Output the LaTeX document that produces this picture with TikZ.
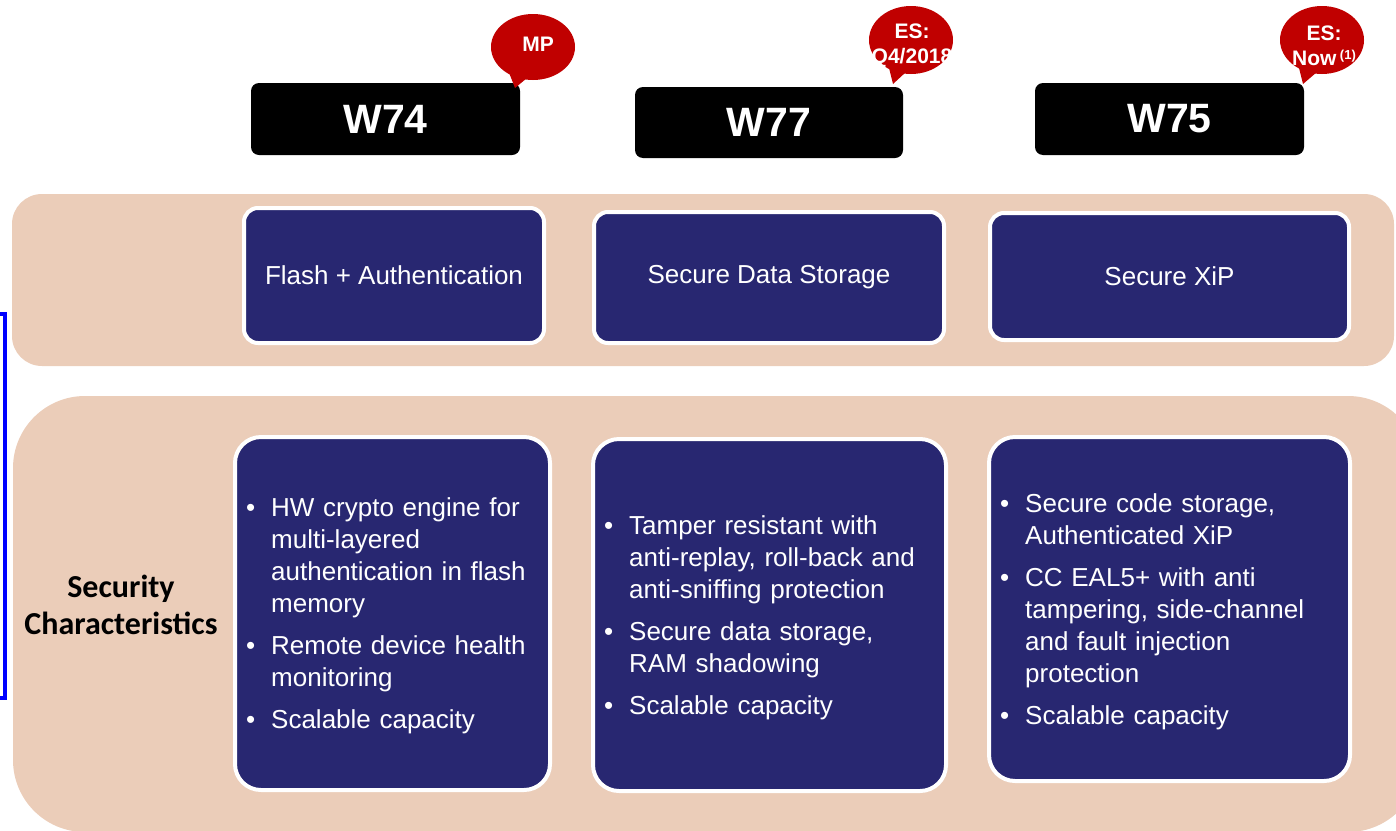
\documentclass[tikz,border=0pt]{standalone}
\usepackage{fontspec}
\setmainfont{Liberation Sans}
\newfontfamily\calib{Carlito}
\definecolor{bandtan}{RGB}{235,205,185}
\definecolor{navy}{RGB}{40,39,113}
\definecolor{calred}{RGB}{192,0,0}
\definecolor{brblue}{RGB}{0,0,255}
\newcommand\bul{\makebox[25pt][l]{\textbullet}}
\newcommand\ind{\hspace*{25pt}}
\tikzset{
  band/.style={fill=bandtan},
  wbox/.style={rectangle, fill=black, rounded corners=8pt, text=white,
    font=\bfseries\fontsize{41}{41}\selectfont, inner sep=0pt},
  topbox/.style={rectangle, fill=navy, draw=white, line width=4pt, rounded corners=14pt,
    text=white, font=\fontsize{26}{32}\selectfont, align=center, inner sep=0pt},
  botbox/.style={rectangle, fill=navy, draw=white, line width=4pt, rounded corners=26pt, inner sep=0pt},
  bullets/.style={anchor=west, text=white, font=\fontsize{26}{32}\selectfont, align=left, inner sep=0pt},
  bubble/.style={fill=calred},
  bubtext/.style={text=white, font=\bfseries\fontsize{21}{25}\selectfont, align=center, inner sep=0pt},
}
\begin{document}
\begin{tikzpicture}[x=1pt,y=-1pt]
\useasboundingbox (0,0) rectangle (1396,830);
\clip (0,0) rectangle (1396,830);
% bands
\fill[band, rounded corners=30pt] (12,194) rectangle (1394,366);
\fill[band, rounded corners=72pt] (13,396) rectangle (1420,832);
% blue bracket
\draw[brblue, line width=4.5pt, line join=miter] (-2,314) -- (5,314) -- (5,698) -- (-2,698);
% headers
\node[wbox, minimum width=269pt, minimum height=72pt] (w74) at (385.5,119) {W74};
\node[wbox, minimum width=268pt, minimum height=71pt] (w77) at (769,122.5) {W77};
\node[wbox, minimum width=269pt, minimum height=72pt] (w75) at (1169.5,119) {W75};
% callouts
\fill[bubble] (533,47) ellipse [x radius=42pt, y radius=33pt];
\fill[bubble] (508,70) -- (515,88) -- (527,78) -- cycle;
\node[bubtext] (mp) at (538,44) {MP};
\fill[bubble] (911,40) ellipse [x radius=42pt, y radius=34pt];
\fill[bubble] (889,68) -- (893,84) -- (906,72) -- cycle;
\node[bubtext] (es1) at (912,45.5) {ES:\\Q4/2018};
\fill[bubble] (1322,40) ellipse [x radius=42pt, y radius=34pt];
\fill[bubble] (1299,68) -- (1303,84) -- (1317,72) -- cycle;
\node[bubtext] (es2) at (1324,45.5) {ES:\\Now\,\raisebox{6pt}{\fontsize{13}{13}\selectfont(1)}};
% top row
\node[topbox, minimum width=300pt, minimum height=135pt] (t1) at (394,275.5) {Flash + Authentication};
\node[topbox, minimum width=350pt, minimum height=131pt] (t2) at (769,277.5) {Secure Data Storage};
\node[topbox, minimum width=359pt, minimum height=127pt] (t3) at (1169.5,276.5) {Secure XiP};
% label
\node[font=\calib\bfseries\fontsize{32}{37}\selectfont, align=center] (sec) at (121,604.5) {Security\\Characteristics};
% bottom row
\node[botbox, minimum width=315pt, minimum height=353pt] (b1) at (392.5,613.5) {};
\node[botbox, minimum width=353pt, minimum height=352pt] (b2) at (769.5,615) {};
\node[botbox, minimum width=361pt, minimum height=344pt] (b3) at (1169.5,609) {};
\node[bullets, text width=293pt] (b1t) at ([xshift=13pt, yshift=-2.5pt] b1.west)
{\bul HW crypto engine for\\ \ind multi-layered\\ \ind authentication in flash\\ \ind memory\\[10pt]
 \bul Remote device health\\ \ind monitoring\\[10pt]
 \bul Scalable capacity};
\node[bullets, text width=331pt] (b2t) at ([xshift=13pt, yshift=-2.5pt] b2.west)
{\bul Tamper resistant with\\ \ind anti-replay, roll-back and\\ \ind anti-sniffing protection\\[10pt]
 \bul Secure data storage,\\ \ind RAM shadowing\\[10pt]
 \bul Scalable capacity};
\node[bullets, text width=339pt] (b3t) at ([xshift=13pt, yshift=-2.5pt] b3.west)
{\bul Secure code storage,\\ \ind Authenticated XiP\\[10pt]
 \bul CC EAL5+ with anti\\ \ind tampering, side-channel\\ \ind and fault injection\\ \ind protection\\[10pt]
 \bul Scalable capacity};
\end{tikzpicture}
\end{document}
